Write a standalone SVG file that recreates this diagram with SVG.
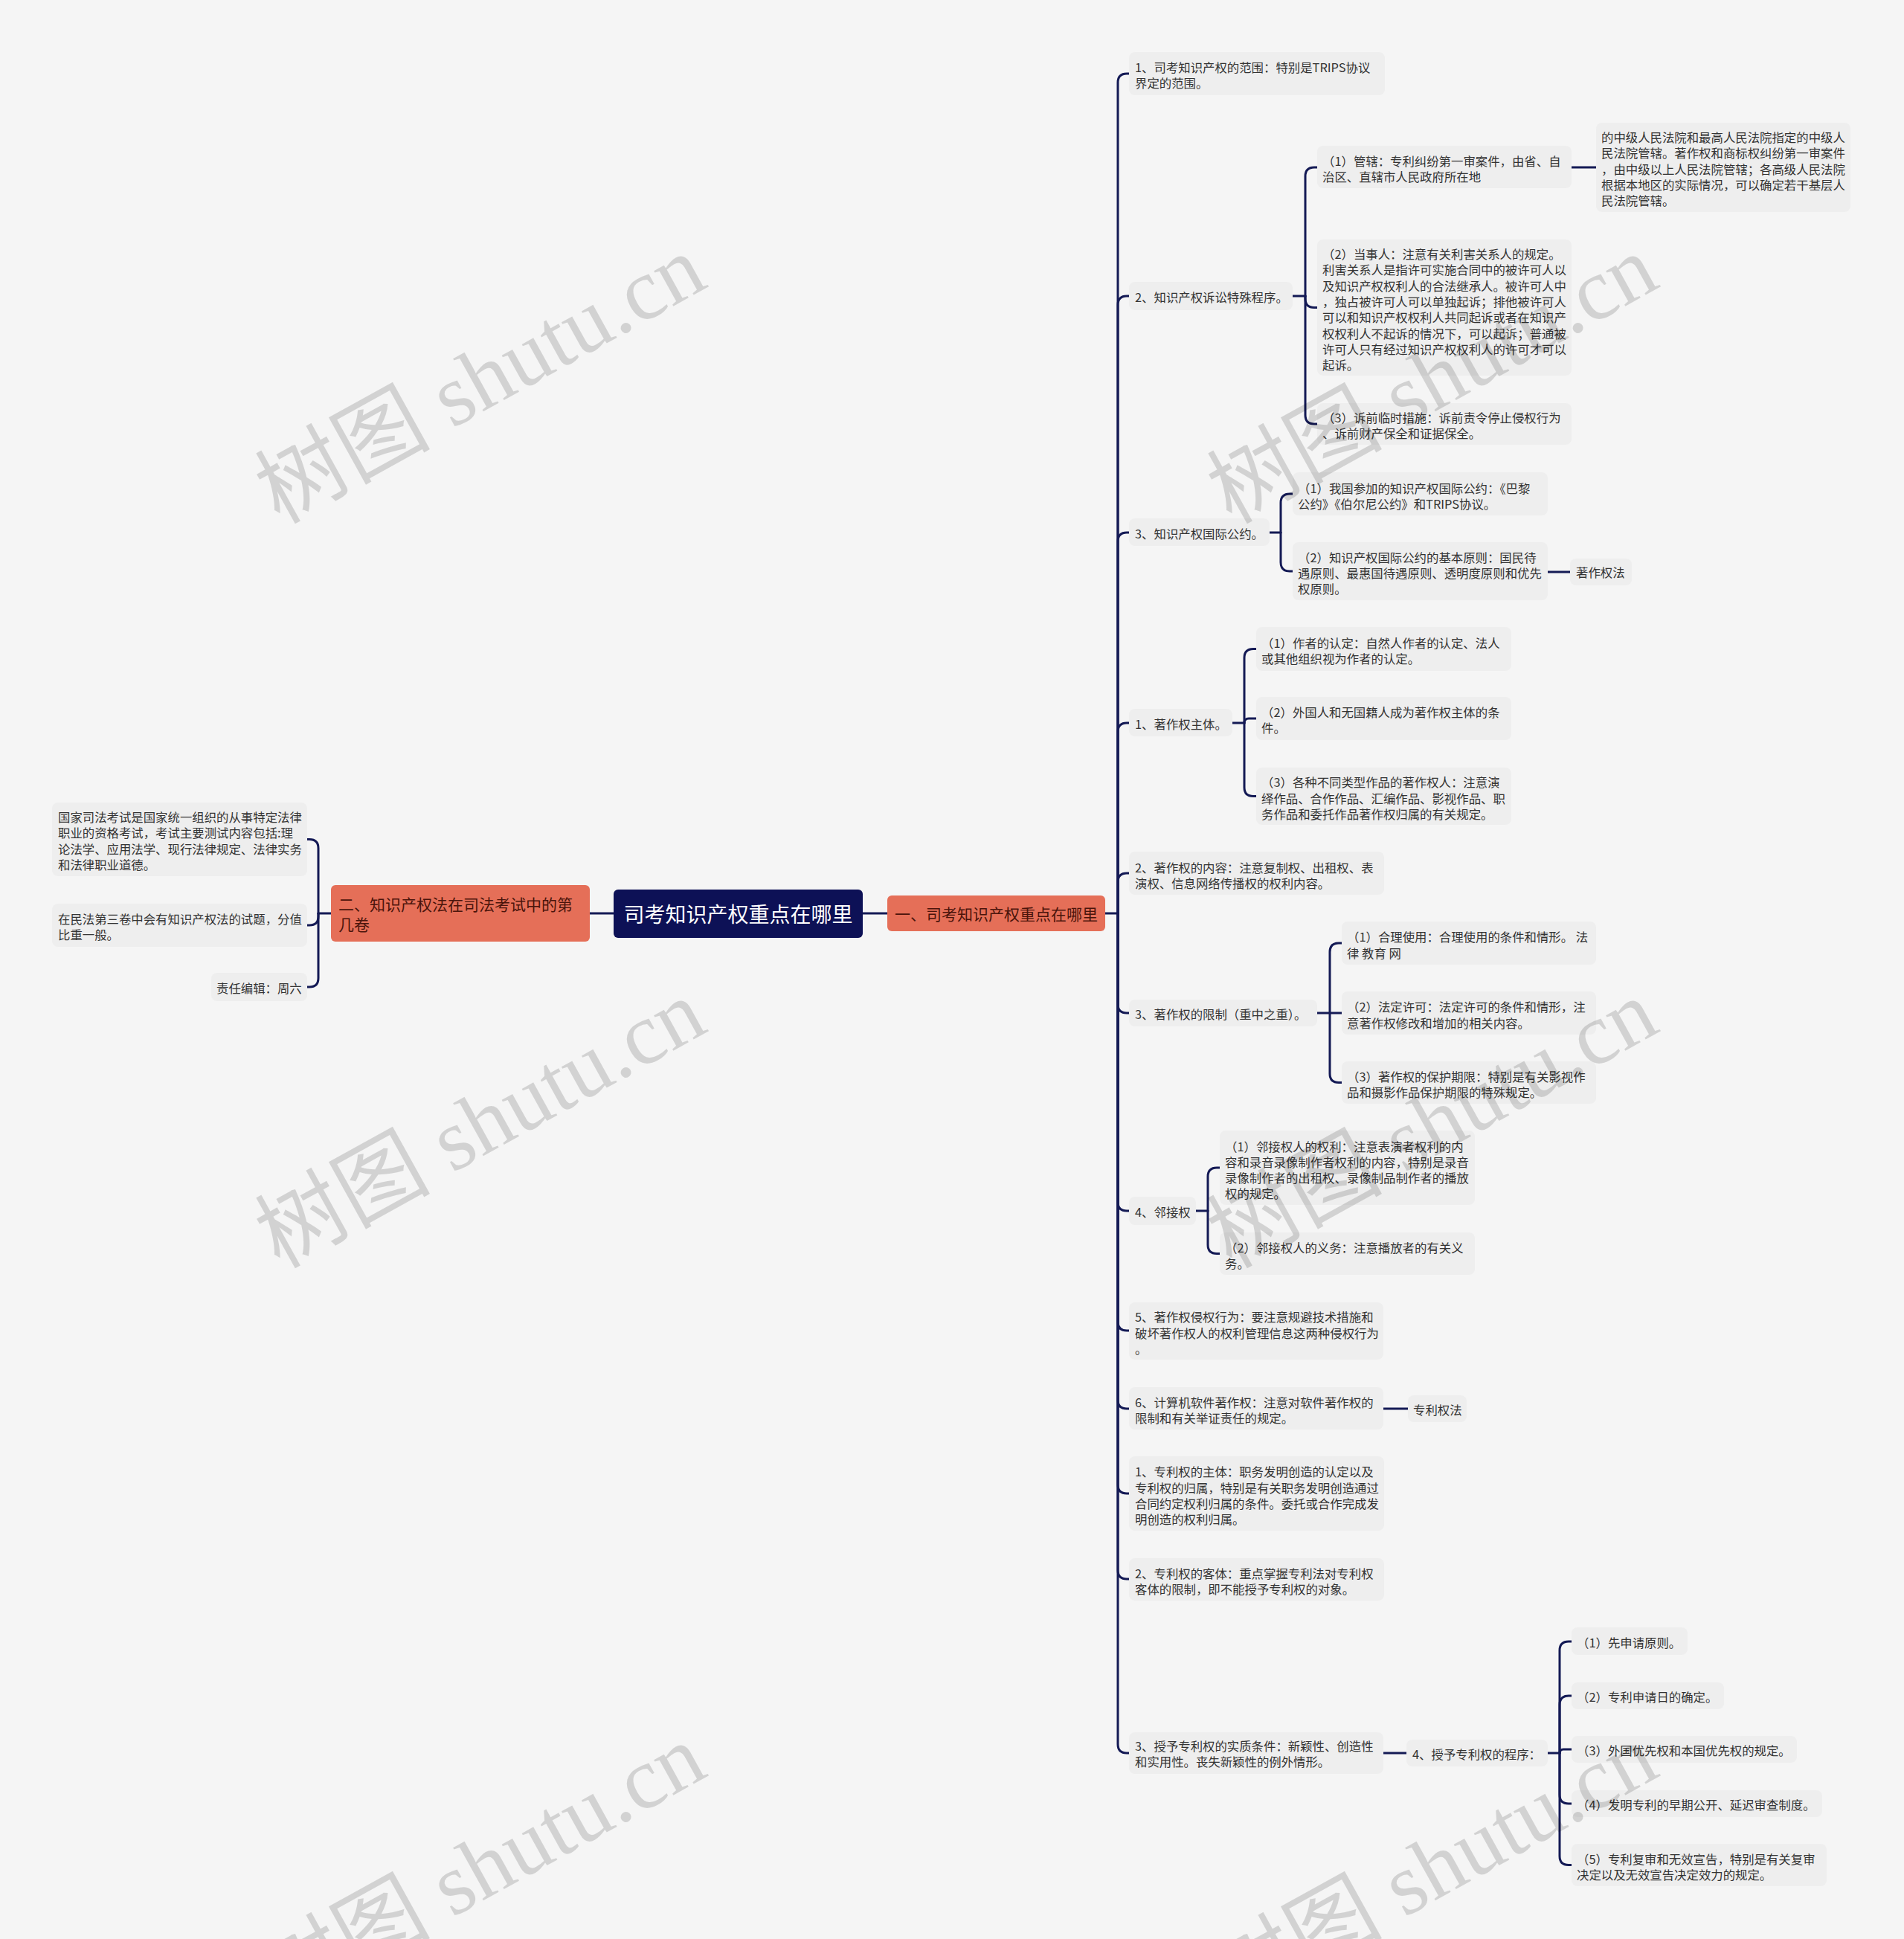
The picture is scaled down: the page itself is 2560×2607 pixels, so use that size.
<svg xmlns="http://www.w3.org/2000/svg" width="2560" height="2607" viewBox="0 0 2560 2607">
<style>
.box{fill:#eeeeee}
.t{font-family:"Noto Sans CJK SC","Microsoft YaHei",sans-serif;font-size:16.4px;fill:#333333;dominant-baseline:central}
.c{fill:none;stroke:#141a55;stroke-width:3;stroke-linecap:round;stroke-linejoin:round}
.br{fill:#e56f58}
.bt{font-family:"Noto Sans CJK SC","Microsoft YaHei",sans-serif;font-size:21px;fill:#4a140b;dominant-baseline:central}
.wm{font-family:"Liberation Serif","Noto Sans CJK SC",serif;font-size:118px;fill:#000;fill-opacity:0.14;text-anchor:middle}
</style>
<rect x="0" y="0" width="2560" height="2607" fill="#f5f5f5"/>

<g id="connectors">
<path class="c" d="M825,1228 H793"/>
<path class="c" d="M1160,1228 H1193"/>
<path class="c" d="M445,1228 H428"/>
<path class="c" d="M428,1228 V1140.5 Q428,1128.5 416,1128.5 H413"/>
<path class="c" d="M428,1228 V1232 Q428,1244 416,1244 H413"/>
<path class="c" d="M428,1228 V1315 Q428,1327 416,1327 H413"/>
<path class="c" d="M1486,1228 H1503"/>
<path class="c" d="M1503,1228 V111 Q1503,99 1515,99 H1518"/>
<path class="c" d="M1503,1228 V410 Q1503,398 1515,398 H1518"/>
<path class="c" d="M1503,1228 V728 Q1503,716 1515,716 H1518"/>
<path class="c" d="M1503,1228 V984 Q1503,972 1515,972 H1518"/>
<path class="c" d="M1503,1228 V1186 Q1503,1174 1515,1174 H1518"/>
<path class="c" d="M1503,1228 V1350 Q1503,1362 1515,1362 H1518"/>
<path class="c" d="M1503,1228 V1616 Q1503,1628 1515,1628 H1518"/>
<path class="c" d="M1503,1228 V1777 Q1503,1789 1515,1789 H1518"/>
<path class="c" d="M1503,1228 V1882 Q1503,1894 1515,1894 H1518"/>
<path class="c" d="M1503,1228 V1996 Q1503,2008 1515,2008 H1518"/>
<path class="c" d="M1503,1228 V2111 Q1503,2123 1515,2123 H1518"/>
<path class="c" d="M1503,1228 V2345 Q1503,2357 1515,2357 H1518"/>
<path class="c" d="M1738,398 H1755"/>
<path class="c" d="M1755,398 V237 Q1755,225 1767,225 H1771"/>
<path class="c" d="M1755,398 V401.5 Q1755,413.5 1767,413.5 H1771"/>
<path class="c" d="M1755,398 V558 Q1755,570 1767,570 H1771"/>
<path class="c" d="M2113,225 H2146"/>
<path class="c" d="M1707,716 H1722"/>
<path class="c" d="M1722,716 V676 Q1722,664 1734,664 H1738"/>
<path class="c" d="M1722,716 V756 Q1722,768 1734,768 H1738"/>
<path class="c" d="M2081,769 H2111"/>
<path class="c" d="M1657,972 H1673"/>
<path class="c" d="M1673,972 V884.5 Q1673,872.5 1685,872.5 H1689"/>
<path class="c" d="M1673,972 Q1673,966 1679,966 H1689"/>
<path class="c" d="M1673,972 V1058.5 Q1673,1070.5 1685,1070.5 H1689"/>
<path class="c" d="M1771,1362 H1804"/>
<path class="c" d="M1788,1362 V1280 Q1788,1268 1800,1268 H1804"/>
<path class="c" d="M1788,1362 V1443.5 Q1788,1455.5 1800,1455.5 H1804"/>
<path class="c" d="M1608,1628 H1624"/>
<path class="c" d="M1624,1628 V1582 Q1624,1570 1636,1570 H1640"/>
<path class="c" d="M1624,1628 V1673.5 Q1624,1685.5 1636,1685.5 H1640"/>
<path class="c" d="M1860,1894 H1893"/>
<path class="c" d="M1860,2357 H1891"/>
<path class="c" d="M2081,2357 H2097"/>
<path class="c" d="M2097,2357 V2219 Q2097,2207 2109,2207 H2113"/>
<path class="c" d="M2097,2357 V2292 Q2097,2280 2109,2280 H2113"/>
<path class="c" d="M2097,2357 Q2097,2352 2102,2352 H2113"/>
<path class="c" d="M2097,2357 V2413 Q2097,2425 2109,2425 H2113"/>
<path class="c" d="M2097,2357 V2495.5 Q2097,2507.5 2109,2507.5 H2113"/>
</g>

<g id="root">
<rect x="825" y="1196" width="335" height="65" rx="6" fill="#0d1156"/>
<text x="992.5" y="1228" font-family="'Noto Sans CJK SC','Microsoft YaHei',sans-serif" font-size="28" fill="#ffffff" text-anchor="middle" dominant-baseline="central">司考知识产权重点在哪里</text>
</g>

<g id="branch-right">
<rect class="br" x="1193" y="1204" width="293" height="48" rx="6"/>
<text class="bt" x="1339.5" y="1228" text-anchor="middle">一、司考知识产权重点在哪里</text>
</g>

<g id="branch-left">
<rect class="br" x="445" y="1190" width="348" height="76" rx="6"/>
<text class="bt"><tspan x="455" y="1215">二、知识产权法在司法考试中的第</tspan><tspan x="455" y="1242">几卷</tspan></text>
</g>

<g id="left-1">
<rect class="box" x="70" y="1079" width="343" height="99" rx="8"/>
<text class="t"><tspan x="78" y="1098">国家司法考试是国家统一组织的从事特定法律</tspan><tspan x="78" y="1119.3">职业的资格考试，考试主要测试内容包括:理</tspan><tspan x="78" y="1140.6">论法学、应用法学、现行法律规定、法律实务</tspan><tspan x="78" y="1162">和法律职业道德。</tspan></text>
</g>
<g id="left-2">
<rect class="box" x="70" y="1215" width="343" height="58" rx="8"/>
<text class="t"><tspan x="78" y="1235">在民法第三卷中会有知识产权法的试题，分值</tspan><tspan x="78" y="1256.3">比重一般。</tspan></text>
</g>
<g id="left-3">
<rect class="box" x="284" y="1308" width="129" height="38" rx="8"/>
<text class="t" x="291" y="1328">责任编辑：周六</text>
</g>

<g id="nA">
<rect class="box" x="1518" y="70" width="344" height="58" rx="8"/>
<text class="t"><tspan x="1526" y="90">1、司考知识产权的范围：特别是TRIPS协议</tspan><tspan x="1526" y="111">界定的范围。</tspan></text>
</g>
<g id="nB">
<rect class="box" x="1518" y="379" width="220" height="38" rx="8"/>
<text class="t" x="1526" y="399">2、知识产权诉讼特殊程序。</text>
</g>
<g id="nB1">
<rect class="box" x="1771" y="196" width="342" height="57" rx="8"/>
<text class="t"><tspan x="1778" y="216">（1）管辖：专利纠纷第一审案件，由省、自</tspan><tspan x="1778" y="237">治区、直辖市人民政府所在地</tspan></text>
</g>
<g id="nB1a">
<rect class="box" x="2146" y="165" width="342" height="120" rx="8"/>
<text class="t"><tspan x="2153" y="184">的中级人民法院和最高人民法院指定的中级人</tspan><tspan x="2153" y="205.3">民法院管辖。著作权和商标权纠纷第一审案件</tspan><tspan x="2153" y="226.6">，由中级以上人民法院管辖；各高级人民法院</tspan><tspan x="2153" y="247.9">根据本地区的实际情况，可以确定若干基层人</tspan><tspan x="2153" y="269.2">民法院管辖。</tspan></text>
</g>
<g id="nB2">
<rect class="box" x="1771" y="322" width="342" height="183" rx="8"/>
<text class="t"><tspan x="1778" y="341">（2）当事人：注意有关利害关系人的规定。</tspan><tspan x="1778" y="362.3">利害关系人是指许可实施合同中的被许可人以</tspan><tspan x="1778" y="383.6">及知识产权权利人的合法继承人。被许可人中</tspan><tspan x="1778" y="405">，独占被许可人可以单独起诉；排他被许可人</tspan><tspan x="1778" y="426.3">可以和知识产权权利人共同起诉或者在知识产</tspan><tspan x="1778" y="447.6">权权利人不起诉的情况下，可以起诉；普通被</tspan><tspan x="1778" y="469">许可人只有经过知识产权权利人的许可才可以</tspan><tspan x="1778" y="490.3">起诉。</tspan></text>
</g>
<g id="nB3">
<rect class="box" x="1771" y="542" width="342" height="56" rx="8"/>
<text class="t"><tspan x="1778" y="561">（3）诉前临时措施：诉前责令停止侵权行为</tspan><tspan x="1778" y="582.3">、诉前财产保全和证据保全。</tspan></text>
</g>

<g id="nC">
<rect class="box" x="1518" y="697" width="189" height="37" rx="8"/>
<text class="t" x="1526" y="717">3、知识产权国际公约。</text>
</g>
<g id="nC1">
<rect class="box" x="1738" y="635" width="343" height="58" rx="8"/>
<text class="t"><tspan x="1745" y="656">（1）我国参加的知识产权国际公约：《巴黎</tspan><tspan x="1745" y="677">公约》《伯尔尼公约》和TRIPS协议。</tspan></text>
</g>
<g id="nC2">
<rect class="box" x="1738" y="729" width="343" height="78" rx="8"/>
<text class="t"><tspan x="1745" y="748.5">（2）知识产权国际公约的基本原则：国民待</tspan><tspan x="1745" y="769.8">遇原则、最惠国待遇原则、透明度原则和优先</tspan><tspan x="1745" y="791">权原则。</tspan></text>
</g>
<g id="nC2a">
<rect class="box" x="2111" y="751" width="83" height="36" rx="8"/>
<text class="t" x="2119" y="769">著作权法</text>
</g>

<g id="nD">
<rect class="box" x="1518" y="953" width="139" height="37" rx="8"/>
<text class="t" x="1526" y="973">1、著作权主体。</text>
</g>
<g id="nD1">
<rect class="box" x="1689" y="843" width="343" height="59" rx="8"/>
<text class="t"><tspan x="1696" y="863.5">（1）作者的认定：自然人作者的认定、法人</tspan><tspan x="1696" y="884.8">或其他组织视为作者的认定。</tspan></text>
</g>
<g id="nD2">
<rect class="box" x="1689" y="937" width="343" height="58" rx="8"/>
<text class="t"><tspan x="1696" y="957">（2）外国人和无国籍人成为著作权主体的条</tspan><tspan x="1696" y="978">件。</tspan></text>
</g>
<g id="nD3">
<rect class="box" x="1689" y="1032" width="343" height="77" rx="8"/>
<text class="t"><tspan x="1696" y="1051">（3）各种不同类型作品的著作权人：注意演</tspan><tspan x="1696" y="1072.5">绎作品、合作作品、汇编作品、影视作品、职</tspan><tspan x="1696" y="1094">务作品和委托作品著作权归属的有关规定。</tspan></text>
</g>

<g id="nE">
<rect class="box" x="1518" y="1145" width="343" height="58" rx="8"/>
<text class="t"><tspan x="1526" y="1165.5">2、著作权的内容：注意复制权、出租权、表</tspan><tspan x="1526" y="1186.8">演权、信息网络传播权的权利内容。</tspan></text>
</g>

<g id="nF">
<rect class="box" x="1518" y="1344" width="253" height="36" rx="8"/>
<text class="t" x="1526" y="1363">3、著作权的限制（重中之重）。</text>
</g>
<g id="nF1">
<rect class="box" x="1804" y="1239" width="342" height="58" rx="8"/>
<text class="t"><tspan x="1811" y="1259">（1）合理使用：合理使用的条件和情形。 法</tspan><tspan x="1811" y="1280.5">律 教育 网</tspan></text>
</g>
<g id="nF2">
<rect class="box" x="1804" y="1333" width="342" height="58" rx="8"/>
<text class="t"><tspan x="1811" y="1353">（2）法定许可：法定许可的条件和情形，注</tspan><tspan x="1811" y="1374.5">意著作权修改和增加的相关内容。</tspan></text>
</g>
<g id="nF3">
<rect class="box" x="1804" y="1427" width="342" height="57" rx="8"/>
<text class="t"><tspan x="1811" y="1446.5">（3）著作权的保护期限：特别是有关影视作</tspan><tspan x="1811" y="1468">品和摄影作品保护期限的特殊规定。</tspan></text>
</g>

<g id="nG">
<rect class="box" x="1518" y="1609" width="90" height="38" rx="8"/>
<text class="t" x="1526" y="1629">4、邻接权</text>
</g>
<g id="nG1">
<rect class="box" x="1640" y="1520" width="343" height="100" rx="8"/>
<text class="t"><tspan x="1647" y="1540.5">（1）邻接权人的权利：注意表演者权利的内</tspan><tspan x="1647" y="1561.8">容和录音录像制作者权利的内容，特别是录音</tspan><tspan x="1647" y="1583">录像制作者的出租权、录像制品制作者的播放</tspan><tspan x="1647" y="1604.3">权的规定。</tspan></text>
</g>
<g id="nG2">
<rect class="box" x="1640" y="1657" width="343" height="57" rx="8"/>
<text class="t"><tspan x="1647" y="1676.5">（2）邻接权人的义务：注意播放者的有关义</tspan><tspan x="1647" y="1698">务。</tspan></text>
</g>

<g id="nH">
<rect class="box" x="1518" y="1751" width="342" height="77" rx="8"/>
<text class="t"><tspan x="1526" y="1770">5、著作权侵权行为：要注意规避技术措施和</tspan><tspan x="1526" y="1791.5">破坏著作权人的权利管理信息这两种侵权行为</tspan><tspan x="1526" y="1813">。</tspan></text>
</g>
<g id="nI">
<rect class="box" x="1518" y="1865" width="342" height="57" rx="8"/>
<text class="t"><tspan x="1526" y="1884.5">6、计算机软件著作权：注意对软件著作权的</tspan><tspan x="1526" y="1905.8">限制和有关举证责任的规定。</tspan></text>
</g>
<g id="nIa">
<rect class="box" x="1893" y="1876" width="79" height="36" rx="8"/>
<text class="t" x="1900" y="1895">专利权法</text>
</g>

<g id="nJ">
<rect class="box" x="1518" y="1958" width="343" height="100" rx="8"/>
<text class="t"><tspan x="1526" y="1978">1、专利权的主体：职务发明创造的认定以及</tspan><tspan x="1526" y="1999.5">专利权的归属，特别是有关职务发明创造通过</tspan><tspan x="1526" y="2021">合同约定权利归属的条件。委托或合作完成发</tspan><tspan x="1526" y="2042">明创造的权利归属。</tspan></text>
</g>
<g id="nK">
<rect class="box" x="1518" y="2095" width="343" height="57" rx="8"/>
<text class="t"><tspan x="1526" y="2114.5">2、专利权的客体：重点掌握专利法对专利权</tspan><tspan x="1526" y="2136">客体的限制，即不能授予专利权的对象。</tspan></text>
</g>
<g id="nL">
<rect class="box" x="1518" y="2329" width="342" height="56" rx="8"/>
<text class="t"><tspan x="1526" y="2347">3、授予专利权的实质条件：新颖性、创造性</tspan><tspan x="1526" y="2368">和实用性。丧失新颖性的例外情形。</tspan></text>
</g>
<g id="nLa">
<rect class="box" x="1891" y="2339" width="190" height="36" rx="8"/>
<text class="t" x="1899" y="2358">4、授予专利权的程序：</text>
</g>
<g id="nL1">
<rect class="box" x="2113" y="2188" width="156" height="37" rx="8"/>
<text class="t" x="2120" y="2208">（1）先申请原则。</text>
</g>
<g id="nL2">
<rect class="box" x="2113" y="2262" width="205" height="36" rx="8"/>
<text class="t" x="2120" y="2281">（2）专利申请日的确定。</text>
</g>
<g id="nL3">
<rect class="box" x="2113" y="2334" width="303" height="36" rx="8"/>
<text class="t" x="2120" y="2353">（3）外国优先权和本国优先权的规定。</text>
</g>
<g id="nL4">
<rect class="box" x="2113" y="2407" width="337" height="36" rx="8"/>
<text class="t" x="2120" y="2426">（4）发明专利的早期公开、延迟审查制度。</text>
</g>
<g id="nL5">
<rect class="box" x="2113" y="2479" width="343" height="57" rx="8"/>
<text class="t"><tspan x="2120" y="2498.5">（5）专利复审和无效宣告，特别是有关复审</tspan><tspan x="2120" y="2520">决定以及无效宣告决定效力的规定。</tspan></text>
</g>

<g id="watermarks">
<text class="wm" transform="translate(665,545) rotate(-29)">树图 shutu.cn</text>
<text class="wm" transform="translate(1945,545) rotate(-29)">树图 shutu.cn</text>
<text class="wm" transform="translate(665,1546) rotate(-29)">树图 shutu.cn</text>
<text class="wm" transform="translate(1945,1546) rotate(-29)">树图 shutu.cn</text>
<text class="wm" transform="translate(665,2547) rotate(-29)">树图 shutu.cn</text>
<text class="wm" transform="translate(1945,2547) rotate(-29)">树图 shutu.cn</text>
</g>
</svg>
